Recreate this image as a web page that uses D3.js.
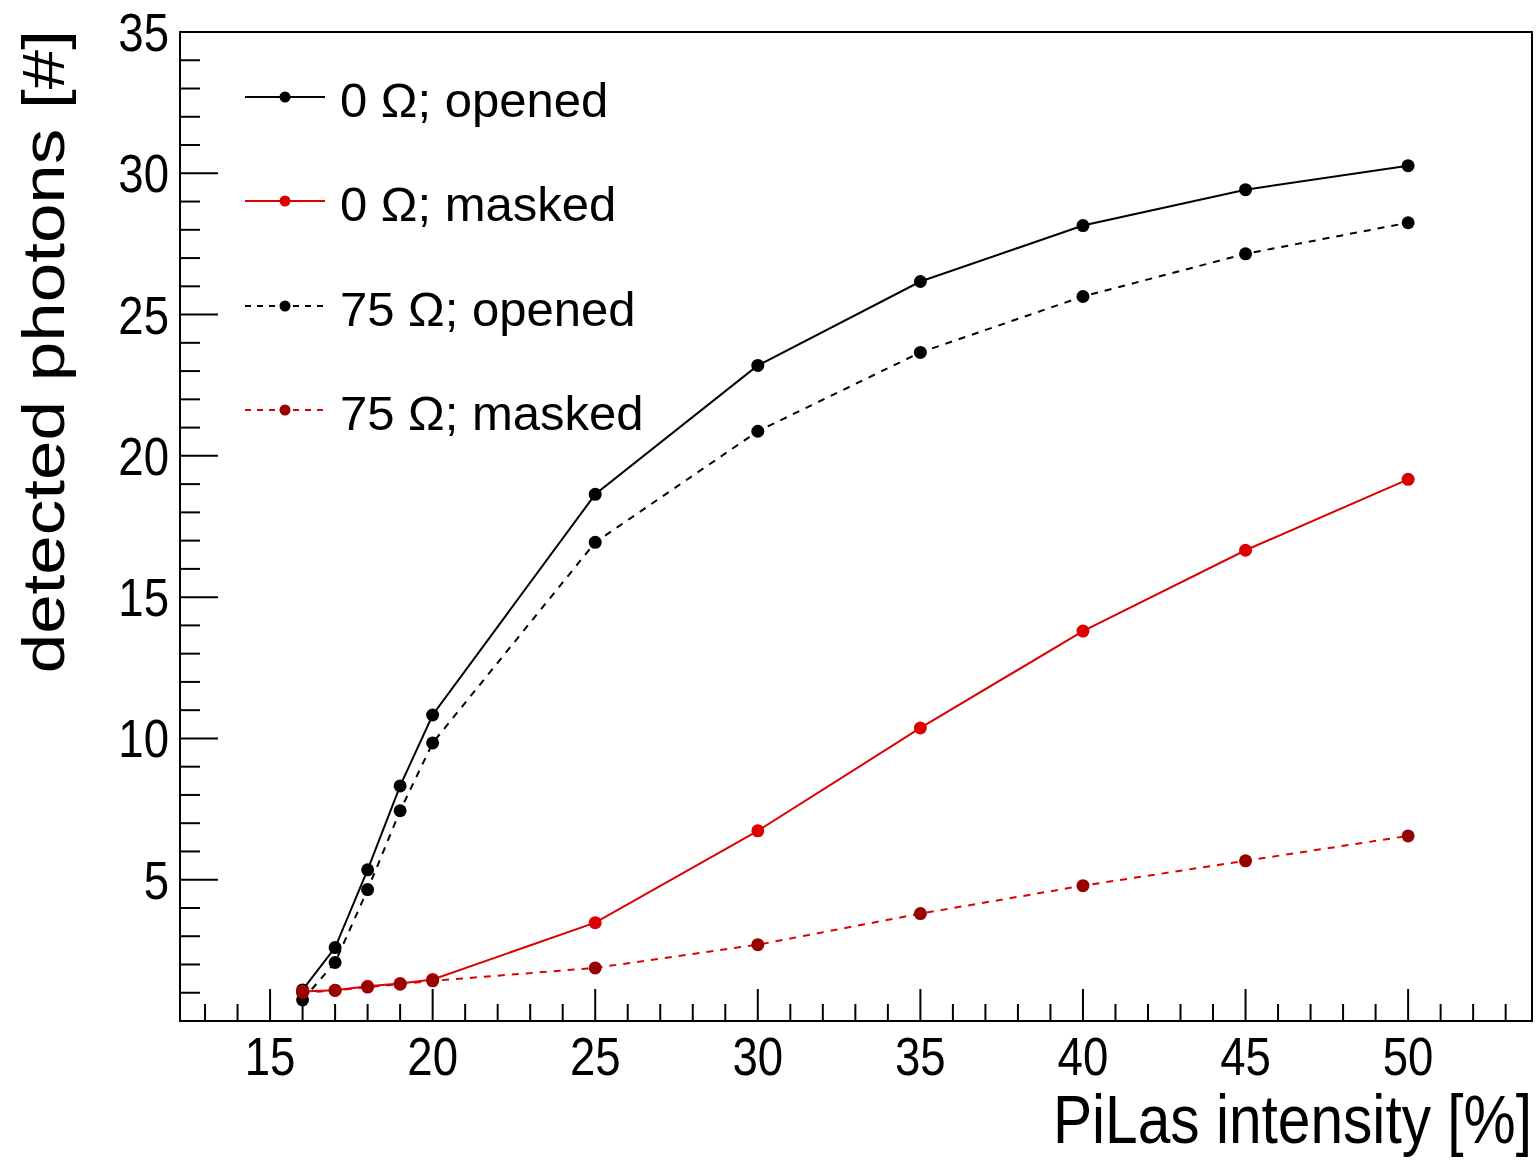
<!DOCTYPE html>
<html>
<head>
<meta charset="utf-8">
<script src="https://cdn.jsdelivr.net/npm/d3@7"></script>
<style>
  html, body { margin: 0; padding: 0; background: #fff; }
  svg { display: block; }
  text { font-family: "Liberation Sans", Arial, Helvetica, sans-serif; fill: #000; }
</style>
</head>
<body>
<svg id="chart" width="1537" height="1160"></svg>
<script>
// ---------- data ----------
const intensity = [16, 17, 18, 19, 20, 25, 30, 35, 40, 45, 50];
const open0     = [1.1, 2.6, 5.35, 8.32, 10.83, 18.64, 23.2, 26.17, 28.15, 29.42, 30.27];
const masked0   = [1.04, 1.09, 1.23, 1.33, 1.47, 3.48, 6.73, 10.37, 13.8, 16.66, 19.17];
const open75    = [0.75, 2.07, 4.65, 7.44, 9.84, 16.94, 20.87, 23.66, 25.64, 27.15, 28.25];
const masked75  = [1.0, 1.08, 1.2, 1.3, 1.42, 1.88, 2.7, 3.8, 4.79, 5.67, 6.55];
const seriesNames = ["0 Ω; opened", "0 Ω; masked", "75 Ω; opened", "75 Ω; masked"];
const xTicks = [15, 20, 25, 30, 35, 40, 45, 50];
const yTicks = [5, 10, 15, 20, 25, 30, 35];
const xTitle = "PiLas intensity [%]";
const yTitle = "detected photons [#]";

const series = [
  { name: seriesNames[0], values: open0,   line: "#000000", marker: "#000000", dash: null },
  { name: seriesNames[1], values: masked0, line: "#dd0000", marker: "#dd0000", dash: null },
  { name: seriesNames[2], values: open75,  line: "#000000", marker: "#000000", dash: "7,7" },
  { name: seriesNames[3], values: masked75, line: "#dd0000", marker: "#990000", dash: "7,7" }
];

// ---------- layout ----------
const L = 180, R = 1532, T = 32, B = 1021;
const svg = d3.select("#chart");
const x = d3.scaleLinear().domain([12.23, 53.81]).range([L, R]);
const y = d3.scaleLinear().domain([0, 35]).range([B, T]);

// frame
svg.append("rect").attr("x", L).attr("y", T).attr("width", R - L).attr("height", B - T)
  .attr("fill", "none").attr("stroke", "#000").attr("stroke-width", 2);

// x ticks
const xMinor = d3.range(13, 54, 1).filter(v => v % 5 !== 0);
svg.append("g").selectAll("line.xmin").data(xMinor).join("line")
  .attr("x1", d => x(d)).attr("x2", d => x(d)).attr("y1", B).attr("y2", B - 17)
  .attr("stroke", "#000").attr("stroke-width", 2);
svg.append("g").selectAll("line.xmaj").data(xTicks).join("line")
  .attr("x1", d => x(d)).attr("x2", d => x(d)).attr("y1", B).attr("y2", B - 32)
  .attr("stroke", "#000").attr("stroke-width", 2);
svg.append("g").selectAll("text").data(xTicks).join("text")
  .attr("transform", d => `translate(${x(d)},1075) scale(0.86,1)`)
  .attr("text-anchor", "middle").attr("font-size", 53).text(d => d);

// y ticks
const yMinor = d3.range(1, 35, 1).filter(v => v % 5 !== 0);
svg.append("g").selectAll("line").data(yMinor).join("line")
  .attr("x1", L).attr("x2", L + 20).attr("y1", d => y(d)).attr("y2", d => y(d))
  .attr("stroke", "#000").attr("stroke-width", 2);
svg.append("g").selectAll("line").data(yTicks).join("line")
  .attr("x1", L).attr("x2", L + 38).attr("y1", d => y(d)).attr("y2", d => y(d))
  .attr("stroke", "#000").attr("stroke-width", 2);
svg.append("g").selectAll("text").data(yTicks).join("text")
  .attr("transform", d => `translate(169,${y(d) + 19}) scale(0.86,1)`)
  .attr("text-anchor", "end").attr("font-size", 53).text(d => d);

// axis titles
svg.append("text").attr("transform", `translate(${R},1143) scale(0.85,1)`)
  .attr("text-anchor", "end").attr("font-size", 69).text(xTitle);
svg.append("text").attr("transform", `translate(64,30) rotate(-90) scale(1,0.83)`)
  .attr("text-anchor", "end").attr("font-size", 71).text(yTitle);

// series
const lineGen = d3.line().x(d => x(d[0])).y(d => y(d[1]));
const plotOrder = [0, 2, 1, 3];
plotOrder.forEach(i => {
  const s = series[i];
  const pts = intensity.map((v, k) => [v, s.values[k]]);
  svg.append("path").datum(pts).attr("d", lineGen)
    .attr("fill", "none").attr("stroke", s.line).attr("stroke-width", 2)
    .attr("stroke-dasharray", s.dash);
  svg.append("g").selectAll("circle").data(pts).join("circle")
    .attr("cx", d => x(d[0])).attr("cy", d => y(d[1])).attr("r", 6.5)
    .attr("fill", s.marker);
});

// legend
const legRows = [97, 201, 306, 410];
series.forEach((s, i) => {
  const cy = legRows[i];
  svg.append("line").attr("x1", 245).attr("x2", 325).attr("y1", cy).attr("y2", cy)
    .attr("stroke", s.line).attr("stroke-width", 2).attr("stroke-dasharray", s.dash ? "6,6" : null);
  svg.append("circle").attr("cx", 285).attr("cy", cy).attr("r", 5.5).attr("fill", s.marker);
  svg.append("text").attr("x", 340).attr("y", cy + 20).attr("font-size", 49).text(s.name);
});
</script>
</body>
</html>
